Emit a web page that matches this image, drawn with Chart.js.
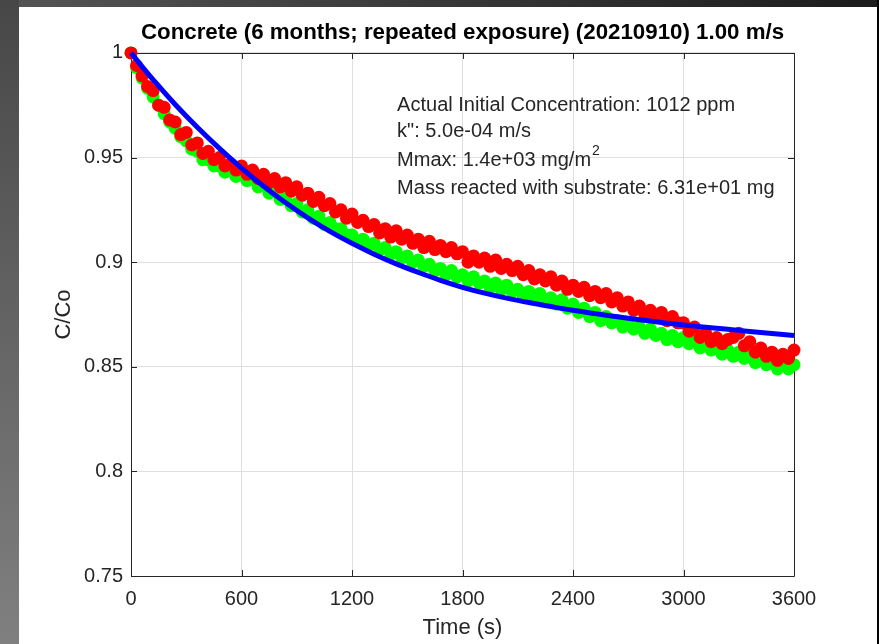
<!DOCTYPE html>
<html>
<head>
<meta charset="utf-8">
<script src="https://cdn.jsdelivr.net/npm/chart.js@4.4.0/dist/chart.umd.min.js"></script>
<style>
  html, body { margin: 0; padding: 0; }
  body { width: 879px; height: 644px; position: relative; overflow: hidden; background: #2a2a2a; }
  #edge-top { position: absolute; left: 0; top: 0; width: 879px; height: 7px; background: linear-gradient(to right, #555555, #1c1c1c); }
  #edge-left { position: absolute; left: 0; top: 0; width: 19px; height: 644px; background: linear-gradient(to bottom, #474747, #808080); }
  #edge-right { position: absolute; right: 0; top: 0; width: 2px; height: 644px; background: #000; }
  #panel { position: absolute; left: 19px; top: 7px; width: 858px; height: 637px; background: #fff; }
</style>
</head>
<body>
<div id="edge-top"></div>
<div id="edge-left"></div>
<div id="edge-right"></div>
<div id="panel"><canvas id="chart" width="858" height="637"></canvas></div>
<script>
// sample times (s) of the measured runs
const sampleTimes = [
    0, 30, 60, 90, 120, 150, 180, 210, 240, 270,
    300, 330, 360, 390, 420, 450, 480, 510, 540, 570,
    600, 630, 660, 690, 720, 750, 780, 810, 840, 870,
    900, 930, 960, 990, 1020, 1050, 1080, 1110, 1140, 1170,
    1200, 1230, 1260, 1290, 1320, 1350, 1380, 1410, 1440, 1470,
    1500, 1530, 1560, 1590, 1620, 1650, 1680, 1710, 1740, 1770,
    1800, 1830, 1860, 1890, 1920, 1950, 1980, 2010, 2040, 2070,
    2100, 2130, 2160, 2190, 2220, 2250, 2280, 2310, 2340, 2370,
    2400, 2430, 2460, 2490, 2520, 2550, 2580, 2610, 2640, 2670,
    2700, 2730, 2760, 2790, 2820, 2850, 2880, 2910, 2940, 2970,
    3000, 3030, 3060, 3090, 3120, 3150, 3180, 3210, 3240, 3270,
    3300, 3330, 3360, 3390, 3420, 3450, 3480, 3510, 3540, 3570,
    3600
];
// C/Co, red markers
const redRatio = [
    1.000, 0.994, 0.989, 0.984, 0.982, 0.975, 0.974, 0.968, 0.967, 0.961,
    0.962, 0.956, 0.957, 0.952, 0.953, 0.949, 0.950, 0.946, 0.947, 0.944,
    0.946, 0.942, 0.944, 0.940, 0.942, 0.938, 0.940, 0.936, 0.938, 0.934,
    0.936, 0.932, 0.933, 0.929, 0.931, 0.927, 0.928, 0.924, 0.925, 0.921,
    0.923, 0.919, 0.920, 0.917, 0.918, 0.914, 0.916, 0.912, 0.915, 0.911,
    0.913, 0.909, 0.911, 0.907, 0.910, 0.906, 0.908, 0.905, 0.907, 0.904,
    0.905, 0.900, 0.903, 0.900, 0.902, 0.898, 0.901, 0.897, 0.899, 0.896,
    0.898, 0.894, 0.896, 0.892, 0.894, 0.891, 0.893, 0.889, 0.891, 0.887,
    0.889, 0.886, 0.888, 0.884, 0.886, 0.883, 0.885, 0.881, 0.883, 0.879,
    0.881, 0.877, 0.879, 0.875, 0.877, 0.874, 0.876, 0.872, 0.874, 0.871,
    0.871, 0.867, 0.869, 0.864, 0.866, 0.862, 0.864, 0.861, 0.863, 0.864,
    0.866, 0.860, 0.862, 0.857, 0.859, 0.855, 0.857, 0.853, 0.856, 0.854,
    0.858
];
// C/Co, green markers
const greenRatio = [
    1.000, 0.993, 0.988, 0.983, 0.979, 0.975, 0.971, 0.967, 0.964, 0.960,
    0.958, 0.954, 0.953, 0.949, 0.949, 0.946, 0.946, 0.943, 0.944, 0.941,
    0.942, 0.939, 0.940, 0.936, 0.937, 0.933, 0.934, 0.930, 0.931, 0.927,
    0.928, 0.924, 0.925, 0.921, 0.922, 0.918, 0.919, 0.916, 0.916, 0.913,
    0.913, 0.910, 0.911, 0.908, 0.909, 0.906, 0.907, 0.904, 0.905, 0.902,
    0.903, 0.900, 0.901, 0.898, 0.899, 0.896, 0.897, 0.894, 0.896, 0.893,
    0.894, 0.891, 0.893, 0.890, 0.891, 0.888, 0.890, 0.887, 0.889, 0.886,
    0.887, 0.884, 0.886, 0.883, 0.885, 0.882, 0.883, 0.880, 0.882, 0.878,
    0.880, 0.876, 0.878, 0.874, 0.876, 0.872, 0.874, 0.871, 0.872, 0.869,
    0.871, 0.868, 0.869, 0.866, 0.868, 0.865, 0.866, 0.863, 0.865, 0.862,
    0.864, 0.861, 0.862, 0.859, 0.861, 0.858, 0.859, 0.856, 0.858, 0.855,
    0.857, 0.854, 0.855, 0.852, 0.854, 0.851, 0.852, 0.849, 0.851, 0.849,
    0.851
];
// fitted curve (blue)
const fitTimes = [
    0, 120, 240, 360, 480, 600, 720, 840, 960, 1080,
    1200, 1320, 1440, 1560, 1680, 1800, 1920, 2040, 2160, 2280,
    2400, 2520, 2640, 2760, 2880, 3000, 3120, 3240, 3360, 3480,
    3600
];
const fitRatio = [
    1.000, 0.9872, 0.9754, 0.9645, 0.9544, 0.9450, 0.9363, 0.9284, 0.9212, 0.9147,
    0.9090, 0.9038, 0.8992, 0.8951, 0.8913, 0.8880, 0.8852, 0.8828, 0.8807, 0.8788,
    0.8770, 0.8754, 0.8739, 0.8725, 0.8712, 0.8700, 0.8689, 0.8679, 0.8669, 0.8659,
    0.8650
];

const xTicks = [0, 600, 1200, 1800, 2400, 3000, 3600];
const xTickLabels = ['0', '600', '1200', '1800', '2400', '3000', '3600'];
const yTicks = [0.75, 0.8, 0.85, 0.9, 0.95, 1];
const yTickLabels = ['0.75', '0.8', '0.85', '0.9', '0.95', '1'];

const titleText = 'Concrete (6 months; repeated exposure) (20210910) 1.00 m/s';
const infoLines = [
    { text: 'Actual Initial Concentration: 1012 ppm' },
    { text: 'k": 5.0e-04 m/s' },
    { text: 'Mmax: 1.4e+03 mg/m', sup: '2' },
    { text: 'Mass reacted with substrate: 6.31e+01 mg' },
];
const infoAnchor = { x: 1445, y: 0.975 };

const FONT = '"Liberation Sans", Arial, Helvetica, sans-serif';
const AXIS_COLOR = '#262626';

function toPoints(xs, ys) {
    return xs.map((x, i) => ({ x: x, y: ys[i] }));
}

// matlab style box with inward ticks
const axesBox = {
    id: 'axesBox',
    beforeDatasetsDraw(chart) {
        const { ctx, chartArea: a, scales } = chart;
        const len = 6;
        ctx.save();
        ctx.strokeStyle = AXIS_COLOR;
        ctx.lineWidth = 1;
        ctx.beginPath();
        ctx.rect(Math.round(a.left) + 0.5, Math.round(a.top) + 0.5,
            Math.round(a.right - a.left), Math.round(a.bottom - a.top));
        for (const t of scales.x.ticks) {
            const px = Math.round(scales.x.getPixelForValue(t.value)) + 0.5;
            ctx.moveTo(px, a.bottom); ctx.lineTo(px, a.bottom - len);
            ctx.moveTo(px, a.top); ctx.lineTo(px, a.top + len);
        }
        for (const t of scales.y.ticks) {
            const py = Math.round(scales.y.getPixelForValue(t.value)) + 0.5;
            ctx.moveTo(a.left, py); ctx.lineTo(a.left + len, py);
            ctx.moveTo(a.right, py); ctx.lineTo(a.right - len, py);
        }
        ctx.stroke();
        ctx.restore();
    },
    afterDatasetsDraw(chart) {
        const { ctx, scales } = chart;
        const left = scales.x.getPixelForValue(infoAnchor.x);
        const top = scales.y.getPixelForValue(infoAnchor.y);
        const gaps = [0, 26, 55, 83];
        ctx.save();
        ctx.fillStyle = AXIS_COLOR;
        ctx.textBaseline = 'middle';
        ctx.textAlign = 'left';
        infoLines.forEach((line, i) => {
            const y = top + gaps[i];
            ctx.font = '20px ' + FONT;
            ctx.fillText(line.text, left, y);
            if (line.sup) {
                const w = ctx.measureText(line.text).width;
                ctx.font = '14px ' + FONT;
                ctx.fillText(line.sup, left + w + 1, y - 9);
            }
        });
        ctx.restore();
    }
};

const ctx = document.getElementById('chart');
const chart = new Chart(ctx, {
    type: 'scatter',
    data: {
        datasets: [{
            label: 'fit',
            data: toPoints(fitTimes, fitRatio),
            showLine: true,
            borderColor: '#0000ff',
            borderWidth: 5,
            pointRadius: 0,
            tension: 0.4,
            clip: false,
            order: 1,
        }, {
            label: 'run 2',
            data: toPoints(sampleTimes, redRatio),
            backgroundColor: '#ff0000',
            borderColor: '#ff0000',
            borderWidth: 0,
            pointRadius: 6.5,
            clip: false,
            order: 2,
        }, {
            label: 'run 1',
            data: toPoints(sampleTimes, greenRatio),
            backgroundColor: '#00ff00',
            borderColor: '#00ff00',
            borderWidth: 0,
            pointRadius: 6.5,
            clip: false,
            order: 3,
        }]
    },
    options: {
        responsive: false,
        animation: false,
        events: [],
        devicePixelRatio: 1,
        layout: {
            padding: { left: 0, right: 83, top: 0, bottom: 0 }
        },
        plugins: {
            legend: { display: false },
            tooltip: { enabled: false },
            title: {
                display: true,
                text: titleText,
                fullSize: false,
                color: '#000',
                font: { family: FONT, size: 22.3, weight: 'bold' },
                padding: { top: 12.6, bottom: 6.6 },
            },
        },
        scales: {
            x: {
                type: 'linear',
                min: 0,
                max: 3600,
                afterBuildTicks: (scale) => { scale.ticks = xTicks.map(v => ({ value: v })); },
                afterFit: (scale) => { scale.height = 68; },
                ticks: {
                    color: AXIS_COLOR,
                    font: { family: FONT, size: 20 },
                    padding: 11,
                    maxRotation: 0,
                    autoSkip: false,
                    callback: (v) => xTickLabels[xTicks.indexOf(v)],
                },
                grid: { color: '#dfdfdf', drawTicks: false },
                border: { display: false },
                title: {
                    display: true,
                    text: 'Time (s)',
                    color: AXIS_COLOR,
                    font: { family: FONT, size: 22 },
                    padding: { top: 0, bottom: 3 },
                },
            },
            y: {
                type: 'linear',
                min: 0.75,
                max: 1,
                afterBuildTicks: (scale) => { scale.ticks = yTicks.map(v => ({ value: v })); },
                afterFit: (scale) => { scale.width = 112; },
                ticks: {
                    color: AXIS_COLOR,
                    font: { family: FONT, size: 20 },
                    padding: 8,
                    callback: (v) => yTickLabels[yTicks.indexOf(v)],
                },
                grid: { color: '#dfdfdf', drawTicks: false },
                border: { display: false },
                title: {
                    display: true,
                    text: 'C/Co',
                    color: AXIS_COLOR,
                    font: { family: FONT, size: 22 },
                    padding: { top: 32, bottom: 0 },
                },
            },
        },
    },
    plugins: [axesBox],
});
</script>
</body>
</html>
